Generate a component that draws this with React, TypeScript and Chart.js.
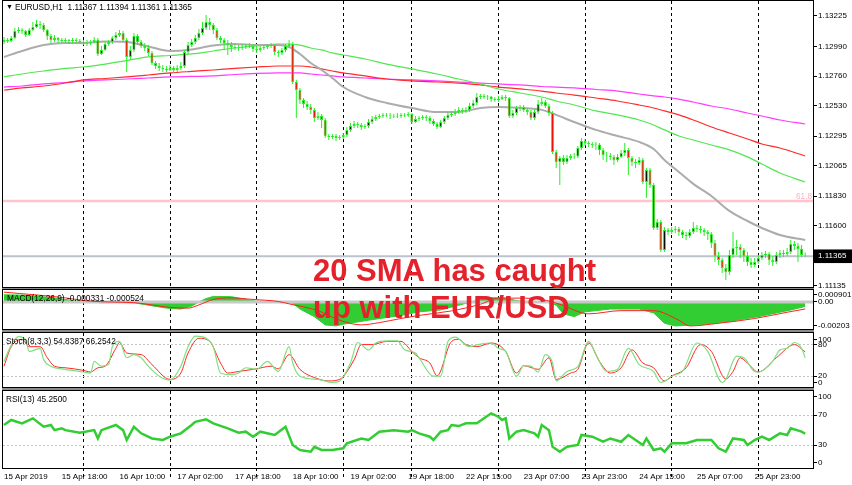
import React, { useEffect, useRef } from 'react';
import { Chart, registerables } from 'chart.js';

Chart.register(...registerables);

const FONT = 'Liberation Sans';
const X_MIN = -0.277;
const X_MAX = 224.16;

// ---------- price data (H1 candles, bar 0 = 15 Apr 02:00) ----------
const openP = [1.13024,1.13039,1.13031,1.13055,1.13109,1.13117,1.13109,1.13078,1.13117,1.13140,1.13163,1.13155,1.13117,1.13070,1.13039,1.13055,1.13039,1.13031,1.13039,1.13031,1.13039,1.13031,1.13024,1.13020,1.13016,1.13024,1.13039,1.12931,1.12962,1.13008,1.13024,1.13055,1.13078,1.13093,1.13039,1.12908,1.12962,1.13070,1.13024,1.12993,1.12977,1.12939,1.12861,1.12838,1.12822,1.12815,1.12807,1.12822,1.12807,1.12822,1.12838,1.12946,1.13000,1.13024,1.13055,1.13093,1.13132,1.13179,1.13155,1.13117,1.13055,1.13039,1.13016,1.13000,1.12985,1.12977,1.12980,1.12985,1.12993,1.12990,1.12970,1.12962,1.12977,1.12985,1.12993,1.13000,1.12946,1.12939,1.12962,1.12993,1.13008,1.12714,1.12652,1.12575,1.12544,1.12521,1.12498,1.12435,1.12451,1.12420,1.12296,1.12288,1.12296,1.12281,1.12288,1.12304,1.12343,1.12374,1.12389,1.12381,1.12366,1.12374,1.12404,1.12428,1.12443,1.12451,1.12459,1.12455,1.12451,1.12447,1.12451,1.12459,1.12455,1.12467,1.12404,1.12428,1.12435,1.12443,1.12435,1.12412,1.12389,1.12366,1.12404,1.12435,1.12459,1.12467,1.12482,1.12498,1.12490,1.12498,1.12528,1.12552,1.12598,1.12606,1.12598,1.12602,1.12582,1.12575,1.12582,1.12598,1.12590,1.12451,1.12474,1.12513,1.12521,1.12498,1.12482,1.12435,1.12482,1.12544,1.12559,1.12528,1.12474,1.12172,1.12095,1.12126,1.12095,1.12126,1.12141,1.12137,1.12203,1.12257,1.12242,1.12234,1.12226,1.12230,1.12188,1.12149,1.12145,1.12134,1.12110,1.12134,1.12164,1.12188,1.12126,1.12095,1.12087,1.12110,1.11940,1.12033,1.11917,1.11584,1.11630,1.11414,1.11568,1.11553,1.11568,1.11576,1.11553,1.11530,1.11522,1.11553,1.11584,1.11576,1.11568,1.11553,1.11537,1.11468,1.11367,1.11336,1.11274,1.11243,1.11375,1.11429,1.11437,1.11414,1.11367,1.11321,1.11297,1.11321,1.11352,1.11375,1.11383,1.11336,1.11321,1.11375,1.11390,1.11383,1.11398,1.11460,1.11444,1.11421,1.11367];
const highP = [1.13062,1.13055,1.13070,1.13132,1.13140,1.13132,1.13117,1.13132,1.13179,1.13194,1.13186,1.13171,1.13124,1.13086,1.13078,1.13062,1.13055,1.13055,1.13047,1.13055,1.13055,1.13047,1.13039,1.13039,1.13039,1.13062,1.13055,1.12993,1.13024,1.13039,1.13070,1.13101,1.13117,1.13109,1.13055,1.12993,1.13093,1.13086,1.13039,1.13016,1.13000,1.12954,1.12877,1.12861,1.12846,1.12838,1.12846,1.12838,1.12846,1.12869,1.12962,1.13024,1.13047,1.13078,1.13124,1.13179,1.13233,1.13210,1.13171,1.13132,1.13070,1.13055,1.13039,1.13024,1.13008,1.13000,1.13008,1.13008,1.13016,1.13008,1.12993,1.12993,1.13000,1.13008,1.13016,1.13008,1.12962,1.12977,1.13008,1.13039,1.13024,1.12731,1.12668,1.12590,1.12567,1.12544,1.12513,1.12482,1.12467,1.12435,1.12312,1.12312,1.12312,1.12304,1.12319,1.12366,1.12397,1.12412,1.12404,1.12397,1.12389,1.12428,1.12451,1.12459,1.12467,1.12474,1.12474,1.12474,1.12467,1.12474,1.12474,1.12474,1.12482,1.12474,1.12451,1.12451,1.12459,1.12459,1.12451,1.12428,1.12404,1.12420,1.12451,1.12482,1.12490,1.12505,1.12521,1.12513,1.12521,1.12552,1.12575,1.12629,1.12621,1.12621,1.12613,1.12606,1.12598,1.12606,1.12613,1.12613,1.12598,1.12498,1.12528,1.12536,1.12536,1.12513,1.12498,1.12498,1.12575,1.12590,1.12575,1.12544,1.12490,1.12188,1.12141,1.12149,1.12149,1.12157,1.12164,1.12219,1.12281,1.12273,1.12257,1.12250,1.12250,1.12242,1.12203,1.12172,1.12164,1.12149,1.12157,1.12188,1.12242,1.12203,1.12141,1.12118,1.12134,1.12126,1.12048,1.12048,1.11932,1.11654,1.11646,1.11592,1.11584,1.11592,1.11600,1.11592,1.11568,1.11553,1.11576,1.11630,1.11607,1.11600,1.11584,1.11568,1.11553,1.11491,1.11398,1.11352,1.11305,1.11414,1.11553,1.11491,1.11460,1.11429,1.11398,1.11352,1.11352,1.11375,1.11398,1.11406,1.11398,1.11367,1.11398,1.11414,1.11414,1.11429,1.11491,1.11483,1.11468,1.11452,1.11394];
const lowP = [1.13008,1.13016,1.13024,1.13047,1.13093,1.13086,1.13062,1.13070,1.13109,1.13132,1.13124,1.13101,1.13039,1.13016,1.13024,1.13016,1.13016,1.13016,1.13008,1.13016,1.13008,1.13008,1.13000,1.12993,1.13000,1.13016,1.12915,1.12923,1.12954,1.12993,1.13008,1.13039,1.13062,1.13024,1.12792,1.12884,1.12946,1.13000,1.12977,1.12954,1.12915,1.12846,1.12815,1.12799,1.12792,1.12792,1.12799,1.12784,1.12792,1.12807,1.12822,1.12931,1.12985,1.13008,1.13039,1.13078,1.13117,1.13117,1.13086,1.13039,1.13016,1.12962,1.12923,1.12946,1.12962,1.12954,1.12962,1.12970,1.12977,1.12946,1.12939,1.12946,1.12962,1.12970,1.12977,1.12923,1.12908,1.12923,1.12946,1.12977,1.12699,1.12435,1.12544,1.12513,1.12498,1.12467,1.12404,1.12420,1.12358,1.12281,1.12265,1.12273,1.12257,1.12265,1.12273,1.12288,1.12327,1.12358,1.12358,1.12343,1.12350,1.12358,1.12389,1.12412,1.12428,1.12435,1.12443,1.12428,1.12435,1.12435,1.12435,1.12443,1.12443,1.12389,1.12397,1.12412,1.12420,1.12412,1.12389,1.12374,1.12350,1.12358,1.12389,1.12420,1.12443,1.12451,1.12467,1.12467,1.12474,1.12482,1.12513,1.12536,1.12582,1.12582,1.12575,1.12559,1.12559,1.12559,1.12575,1.12567,1.12435,1.12435,1.12459,1.12490,1.12482,1.12459,1.12420,1.12420,1.12467,1.12528,1.12513,1.12451,1.12157,1.12048,1.11917,1.12072,1.12079,1.12110,1.12118,1.12126,1.12188,1.12219,1.12211,1.12203,1.12188,1.12149,1.12110,1.12095,1.12110,1.12072,1.12095,1.12126,1.12141,1.11994,1.12064,1.12048,1.12072,1.11925,1.11816,1.11894,1.11568,1.11568,1.11398,1.11398,1.11530,1.11537,1.11545,1.11522,1.11506,1.11491,1.11506,1.11537,1.11553,1.11545,1.11522,1.11491,1.11429,1.11321,1.11297,1.11235,1.11181,1.11220,1.11352,1.11375,1.11352,1.11321,1.11290,1.11274,1.11282,1.11305,1.11336,1.11352,1.11297,1.11290,1.11305,1.11352,1.11359,1.11367,1.11383,1.11414,1.11321,1.11359,1.11361];
const closeP = [1.13039,1.13031,1.13055,1.13109,1.13117,1.13109,1.13078,1.13117,1.13140,1.13163,1.13155,1.13117,1.13070,1.13039,1.13055,1.13039,1.13031,1.13039,1.13031,1.13039,1.13031,1.13024,1.13020,1.13016,1.13024,1.13039,1.12931,1.12962,1.13008,1.13024,1.13055,1.13078,1.13093,1.13039,1.12908,1.12962,1.13070,1.13024,1.12993,1.12977,1.12939,1.12861,1.12838,1.12822,1.12815,1.12807,1.12822,1.12807,1.12822,1.12838,1.12946,1.13000,1.13024,1.13055,1.13093,1.13132,1.13179,1.13155,1.13117,1.13055,1.13039,1.13016,1.13000,1.12985,1.12977,1.12980,1.12985,1.12993,1.12990,1.12970,1.12962,1.12977,1.12985,1.12993,1.13000,1.12946,1.12939,1.12962,1.12993,1.13008,1.12714,1.12652,1.12575,1.12544,1.12521,1.12498,1.12435,1.12451,1.12420,1.12296,1.12288,1.12296,1.12281,1.12288,1.12304,1.12343,1.12374,1.12389,1.12381,1.12366,1.12374,1.12404,1.12428,1.12443,1.12451,1.12459,1.12455,1.12451,1.12447,1.12451,1.12459,1.12455,1.12467,1.12404,1.12428,1.12435,1.12443,1.12435,1.12412,1.12389,1.12366,1.12404,1.12435,1.12459,1.12467,1.12482,1.12498,1.12490,1.12498,1.12528,1.12552,1.12598,1.12606,1.12598,1.12602,1.12582,1.12575,1.12582,1.12598,1.12590,1.12451,1.12474,1.12513,1.12521,1.12498,1.12482,1.12435,1.12482,1.12544,1.12559,1.12528,1.12474,1.12172,1.12095,1.12126,1.12095,1.12126,1.12141,1.12137,1.12203,1.12257,1.12242,1.12234,1.12226,1.12230,1.12188,1.12149,1.12145,1.12134,1.12110,1.12134,1.12164,1.12188,1.12126,1.12095,1.12087,1.12110,1.11940,1.12033,1.11917,1.11584,1.11630,1.11414,1.11568,1.11553,1.11568,1.11576,1.11553,1.11530,1.11522,1.11553,1.11584,1.11576,1.11568,1.11553,1.11537,1.11468,1.11367,1.11336,1.11274,1.11243,1.11375,1.11429,1.11437,1.11414,1.11367,1.11321,1.11297,1.11321,1.11352,1.11375,1.11383,1.11336,1.11321,1.11375,1.11390,1.11383,1.11398,1.11460,1.11444,1.11421,1.11375,1.11365];

// ---------- moving averages (read at these bar indices) ----------
const maIdx = [0,5,11,17,22,28,34,40,46,52,58,64,70,76,79,82,85,88,91,94,100,106,113,120,126,132,137,143,149,153,158,164,170,176,180,183,187,191,196,201,206,210,215,222];
const sma20 = [1.12908,1.12954,1.13000,1.13016,1.13016,1.13027,1.13024,1.12989,1.12954,1.12966,1.12997,1.13008,1.13000,1.13000,1.12985,1.12931,1.12861,1.12807,1.12745,1.12675,1.12598,1.12552,1.12513,1.12482,1.12482,1.12513,1.12521,1.12513,1.12498,1.12459,1.12404,1.12343,1.12296,1.12250,1.12195,1.12110,1.12017,1.11925,1.11832,1.11716,1.11638,1.11584,1.11530,1.11491];
const maGreen = [1.12753,1.12776,1.12799,1.12819,1.12830,1.12853,1.12880,1.12908,1.12919,1.12931,1.12954,1.12977,1.12993,1.13008,1.13008,1.13000,1.12977,1.12962,1.12939,1.12923,1.12892,1.12853,1.12815,1.12776,1.12737,1.12699,1.12660,1.12629,1.12598,1.12567,1.12536,1.12490,1.12459,1.12420,1.12381,1.12343,1.12296,1.12265,1.12226,1.12188,1.12134,1.12079,1.12010,1.11940];
const maRed = [1.12652,1.12668,1.12683,1.12706,1.12730,1.12741,1.12753,1.12768,1.12784,1.12796,1.12807,1.12819,1.12830,1.12838,1.12838,1.12838,1.12830,1.12815,1.12799,1.12784,1.12761,1.12737,1.12722,1.12714,1.12706,1.12691,1.12675,1.12660,1.12644,1.12629,1.12613,1.12590,1.12567,1.12536,1.12513,1.12490,1.12459,1.12420,1.12366,1.12319,1.12273,1.12234,1.12203,1.12141];
const maMagenta = [1.12675,1.12683,1.12699,1.12710,1.12722,1.12730,1.12737,1.12745,1.12753,1.12757,1.12761,1.12772,1.12780,1.12784,1.12784,1.12784,1.12776,1.12768,1.12761,1.12753,1.12745,1.12737,1.12730,1.12722,1.12714,1.12706,1.12699,1.12691,1.12679,1.12675,1.12668,1.12656,1.12644,1.12621,1.12606,1.12598,1.12582,1.12559,1.12528,1.12505,1.12474,1.12451,1.12420,1.12389];
const fibLevel = 1.11793;
const bidPrice = 1.11365;
const priceTicks = [1.11135,1.11365,1.11600,1.11830,1.12065,1.12295,1.12530,1.12760,1.12990,1.13225];

// ---------- MACD(12,26,9) ----------
const macdHistIdx = [0,6,13,20,24,27,32,36,40,45,49,52,54,56,58,63,67,70,74,78,80,82,86,89,92,94,101,110,115,121,126,131,135,139,142,146,150,153,155,158,161,168,176,180,183,186,193,201,209,218,222];
const macdHist = [0.00054,0.00051,0.00033,0.00008,0,-0.00006,-0.00003,-0.00006,-0.00024,-0.00046,-0.00053,-0.00031,0,0.00026,0.00042,0.0004,0.00019,0.00004,0,0.00004,-0.0001,-0.00053,-0.0011,-0.00172,-0.0018,-0.00167,-0.00137,-0.00101,-0.00074,-0.0006,-0.00024,0.00011,0.00033,0.00029,0.00011,-0.00003,0.00004,-0.00024,-0.00089,-0.0011,-0.00074,-0.00053,-0.00053,-0.00082,-0.0016,-0.0018,-0.00171,-0.00146,-0.0011,-0.0006,-0.000331];
const macdSigIdx = [0,17,22,29,36,46,51,54,58,63,69,76,79,87,93,99,104,110,115,124,132,137,143,149,154,162,171,180,187,190,198,208,217,222];
const macdSig = [0.00074,0.00031,0.00011,0,-0.00005,-0.00041,-0.00046,-0.00022,0.00019,0.00031,0.00019,0.00004,-0.00014,-0.00065,-0.00137,-0.00172,-0.00155,-0.00124,-0.00101,-0.00067,-0.00017,0.00029,0.00029,0.00019,-0.00017,-0.00089,-0.00065,-0.00065,-0.00137,-0.0018,-0.0016,-0.00124,-0.00077,-0.000524];
const macdTickVals = [-0.00178, 0, 0.000578];
const macdTickLabels = ['-0.00203', '0.00', '0.000901'];

// ---------- Stochastic(8,3,3) ----------
const stochMainIdx = [0,2,4,6,7,10,11,13,17,22,24,25,27,29,30,32,34,36,38,40,43,46,49,51,53,56,58,60,63,65,67,70,73,76,79,80,82,87,91,93,96,98,101,103,106,109,111,114,115,119,121,123,125,129,132,135,137,139,142,144,146,148,150,152,153,156,159,162,164,167,170,173,176,180,182,184,185,188,192,195,199,200,203,205,208,209,213,215,217,219,221,222];
const stochMain = [48,79,95,89,67,73,51,39,33,28,26,48,39,42,76,86,55,61,55,39,20,12.6,39,76,96,92,76,26,23,26,36,33,48,29,76,45,20,14,8,11,45,84,70,83,87,87,70,64,55,20,20,86,94,76,81,83,73,67,20,40,39,28,61,45,11,29,38,86,61,29,33,73,42,29,8,14,20,29,83,67,8,14,58,55,29,28,48,70,73,84,73,54.84];
const stochSigIdx = [0,2,5,7,10,12,14,17,22,24,26,28,31,32,34,38,41,46,49,51,54,57,60,62,65,70,74,76,79,82,87,90,93,97,99,102,106,110,113,115,118,120,124,126,128,131,135,139,142,144,148,151,153,157,159,162,165,168,171,174,177,180,183,185,189,193,196,200,202,204,206,209,214,219,222];
const stochSig = [39,76,90,76,76,55,39,36,31,28,36,39,73,84,64,61,42,14,26,64,92,86,45,26,29,34,39,34,61,33,15,11,14,51,80,80,86,86,67,55,45,21,86,90,80,76,83,67,26,40,33,55,14,26,33,83,48,26,36,70,45,36,11,20,36,80,67,15,29,55,45,28,55,80,66.25];
const stochTickVals = [7.7, 20, 80, 90];
const stochTickLabels = ['0', '20', '80', '100'];

// ---------- RSI(13) ----------
const rsiIdx = [0,2,5,8,11,13,14,16,17,21,25,26,27,31,33,34,36,38,41,44,46,49,52,53,56,58,62,65,67,69,71,75,78,80,82,85,86,88,91,94,95,99,101,104,108,112,113,115,118,119,121,123,124,126,128,131,133,135,137,138,139,140,142,144,147,148,149,151,152,154,156,159,160,163,166,168,171,173,175,177,178,180,182,183,185,189,192,196,198,200,202,205,206,208,210,212,215,217,218,221,222];
const rsiVals = [56.8,63.4,59,65.6,54.5,56.8,50,52.4,50,46.6,50,39,50,56.8,50,37,54.5,45.8,39,37,41.3,45.8,56.8,61,64.3,59,52.4,46.6,48,41.3,48,43.6,54.5,30.4,23.8,21.5,28,23.8,23.8,26,32.6,39,37,48,50,48,50,45.8,41.3,37,48,50,56.8,55.4,59,59,65.6,72.2,67.7,63.4,65.6,39,48,50,45.8,41.3,56.8,50,28,21.5,28,30.4,43.6,41.3,34.7,39,34.7,43.6,37,30.4,39,23.8,26,21.5,32.6,32.6,37,37,26,21.5,39,37,30.4,37,41.3,37,45.8,43.6,52.4,48,45.25];
const rsiTickVals = [7, 30, 70, 94.1];
const rsiTickLabels = ['0', '30', '70', '100'];

// ---------- time axis ----------
const separatorBars = [22,46,70,94,113,137,161,185,209];
const labelBars = [0,16,32,48,64,80,96,112,128,144,160,176,192,208];
const timeLabels = ['15 Apr 2019','15 Apr 18:00','16 Apr 10:00','17 Apr 02:00','17 Apr 18:00','18 Apr 10:00','19 Apr 02:00','19 Apr 18:00','22 Apr 15:00','23 Apr 07:00','23 Apr 23:00','24 Apr 15:00','25 Apr 07:00','25 Apr 23:00'];

const pts = (idx: number[], vals: number[]) => idx.map((x, k) => ({ x, y: vals[k] }));
const level = (v: number) => [{ x: X_MIN, y: v }, { x: X_MAX, y: v }];

const framePlugin = {
  id: 'frame',
  afterDraw(chart: any) {
    const { ctx, chartArea: a } = chart;
    ctx.save();
    ctx.strokeStyle = '#000';
    ctx.lineWidth = 1;
    ctx.strokeRect(Math.round(a.left) - 0.5, Math.round(a.top) - 0.5, Math.round(a.right - a.left) + 1, Math.round(a.bottom - a.top) + 1);
    ctx.restore();
  },
};

function makeX(showLabels: boolean, height: number) {
  const vals = showLabels ? [...separatorBars, ...labelBars].sort((a, b) => a - b) : separatorBars;
  return {
    type: 'linear',
    min: X_MIN,
    max: X_MAX,
    offset: false,
    afterBuildTicks: (s: any) => { s.ticks = vals.map((v) => ({ value: v })); },
    afterFit: (s: any) => { s.height = height; s.paddingLeft = 0; s.paddingRight = 0; },
    ticks: {
      display: showLabels,
      autoSkip: false,
      maxRotation: 0,
      minRotation: 0,
      align: 'start',
      padding: -8,
      color: '#000',
      font: { family: FONT, size: 8 },
      callback: (v: number) => { const k = labelBars.indexOf(v); return k >= 0 ? timeLabels[k] : ''; },
    },
    grid: {
      offset: false,
      drawOnChartArea: true,
      drawTicks: showLabels,
      tickLength: 12,
      lineWidth: 1,
      tickBorderDash: [3, 3],
      color: (c: any) => (c.tick && separatorBars.includes(c.tick.value) ? '#000' : 'rgba(0,0,0,0)'),
      tickColor: (c: any) => (c.tick && separatorBars.includes(c.tick.value) ? '#000' : 'rgba(0,0,0,0)'),
    },
    border: { display: false, dash: [3, 3] },
  };
}

function makeY(min: number, max: number, vals: number[], labels: string[], gridIdx: number[], tickExtra: any = {}) {
  return {
    type: 'linear',
    position: 'right',
    min,
    max,
    beginAtZero: false,
    afterBuildTicks: (s: any) => { s.ticks = vals.map((v) => ({ value: v })); },
    afterFit: (s: any) => { s.width = 39; s.paddingTop = 0; s.paddingBottom = 0; },
    ticks: {
      autoSkip: false,
      padding: 1,
      color: '#000',
      font: { family: FONT, size: 8 },
      callback: (_v: number, i: number) => labels[i],
      ...tickExtra,
    },
    grid: {
      drawOnChartArea: true,
      drawTicks: true,
      tickLength: 4,
      tickColor: '#000',
      lineWidth: 1,
      color: (c: any) => (gridIdx.includes(c.index) ? '#c4c4c4' : 'rgba(0,0,0,0)'),
    },
    border: { display: false, dash: [2, 2] },
  };
}

const baseOptions = (padBottom: number) => ({
  responsive: false,
  animation: false,
  events: [],
  layout: { padding: { left: 3, top: 1, bottom: padBottom, right: 0 } },
  plugins: { legend: { display: false }, tooltip: { enabled: false } },
});

function mainConfig(): any {
  const bars = closeP.map((_, i) => i);
  return {
    type: 'bar',
    data: {
      datasets: [
        { type: 'line', data: level(fibLevel), borderColor: '#ffc4cc', borderWidth: 2.5, pointRadius: 0, order: 9 },
        { type: 'line', data: level(bidPrice), borderColor: '#bcc3cc', borderWidth: 2, pointRadius: 0, order: 9 },
        { type: 'line', data: pts(maIdx, maMagenta), borderColor: '#ff3cff', borderWidth: 1.2, pointRadius: 0, cubicInterpolationMode: 'monotone', order: 8 },
        { type: 'line', data: pts(maIdx, maRed), borderColor: '#ff2a2a', borderWidth: 1.2, pointRadius: 0, cubicInterpolationMode: 'monotone', order: 7 },
        { type: 'line', data: pts(maIdx, maGreen), borderColor: '#52e652', borderWidth: 1.2, pointRadius: 0, cubicInterpolationMode: 'monotone', order: 6 },
        { type: 'line', data: pts(maIdx, sma20), borderColor: '#acacac', borderWidth: 2, pointRadius: 0, cubicInterpolationMode: 'monotone', order: 5 },
        { type: 'bar', data: bars.map((i) => ({ x: i, y: [lowP[i], highP[i]] })), backgroundColor: '#26ee26', barThickness: 1, grouped: false, borderWidth: 0, inflateAmount: 0, order: 2 },
        {
          type: 'bar',
          data: bars.map((i) => ({ x: i, y: [openP[i], closeP[i]] })),
          backgroundColor: (c: any) => (closeP[c.dataIndex] >= openP[c.dataIndex] ? '#000' : '#ff0000'),
          borderColor: '#26ee26',
          borderWidth: 1,
          borderSkipped: false,
          barThickness: 3,
          grouped: false,
          inflateAmount: 0,
          order: 1,
        },
      ],
    },
    options: {
      ...baseOptions(1),
      scales: {
        x: makeX(false, 0),
        y: makeY(1.11127, 1.13341, priceTicks, priceTicks.map((v) => v.toFixed(5)), [], {
          showLabelBackdrop: true,
          backdropColor: (c: any) => (c.index === 1 ? '#000' : 'rgba(0,0,0,0)'),
          backdropPadding: { left: 4, right: 6, top: 2, bottom: 2 },
          color: (c: any) => (c.index === 1 ? '#fff' : '#000'),
        }),
      },
    },
    plugins: [framePlugin],
  };
}

function macdConfig(): any {
  return {
    type: 'line',
    data: {
      datasets: [
        { data: pts(macdHistIdx, macdHist), borderColor: '#32cd32', backgroundColor: '#32cd32', borderWidth: 1, fill: 'origin', pointRadius: 0, order: 3 },
        { data: level(0), borderColor: '#c8c8c8', borderWidth: 3, pointRadius: 0, order: 2 },
        { data: pts(macdSigIdx, macdSig), borderColor: '#ff2020', borderWidth: 1, pointRadius: 0, cubicInterpolationMode: 'monotone', order: 1 },
      ],
    },
    options: {
      ...baseOptions(1),
      scales: { x: makeX(false, 0), y: makeY(-0.00203, 0.000901, macdTickVals, macdTickLabels, []) },
    },
    plugins: [framePlugin],
  };
}

function stochConfig(): any {
  return {
    type: 'line',
    data: {
      datasets: [
        { data: pts(stochSigIdx, stochSig), borderColor: '#ff2626', borderWidth: 1, pointRadius: 0, cubicInterpolationMode: 'monotone', order: 2 },
        { data: pts(stochMainIdx, stochMain), borderColor: '#7ee07e', borderWidth: 1.2, pointRadius: 0, cubicInterpolationMode: 'monotone', order: 1 },
      ],
    },
    options: {
      ...baseOptions(1),
      scales: { x: makeX(false, 0), y: makeY(-0.5, 102, stochTickVals, stochTickLabels, [1, 2]) },
    },
    plugins: [framePlugin],
  };
}

function rsiConfig(): any {
  return {
    type: 'line',
    data: {
      datasets: [
        { data: pts(rsiIdx, rsiVals), borderColor: '#32cd32', borderWidth: 2.5, pointRadius: 0, order: 1 },
      ],
    },
    options: {
      ...baseOptions(0),
      scales: { x: makeX(true, 17), y: makeY(0, 101.7, rsiTickVals, rsiTickLabels, [1, 2]) },
    },
    plugins: [framePlugin],
  };
}

const labelStyle: React.CSSProperties = {
  position: 'absolute',
  fontFamily: FONT,
  fontSize: '8.3px',
  lineHeight: '10px',
  color: '#000',
  whiteSpace: 'pre',
};

const gapStyle = (top: number, h: number): React.CSSProperties => ({
  position: 'absolute', left: 2, top, width: 812, height: h, background: '#8c8c8c',
});

export default function App() {
  const mainRef = useRef<HTMLCanvasElement>(null);
  const macdRef = useRef<HTMLCanvasElement>(null);
  const stochRef = useRef<HTMLCanvasElement>(null);
  const rsiRef = useRef<HTMLCanvasElement>(null);

  useEffect(() => {
    document.body.style.margin = '0';
    const charts: any[] = [];
    if (mainRef.current) charts.push(new Chart(mainRef.current, mainConfig()));
    if (macdRef.current) charts.push(new Chart(macdRef.current, macdConfig()));
    if (stochRef.current) charts.push(new Chart(stochRef.current, stochConfig()));
    if (rsiRef.current) charts.push(new Chart(rsiRef.current, rsiConfig()));
    return () => charts.forEach((c) => c.destroy());
  }, []);

  return (
    <div style={{ position: 'relative', width: 852, height: 485, background: '#fff', overflow: 'hidden' }}>
      <canvas ref={mainRef} width={852} height={288} style={{ position: 'absolute', left: 0, top: 0 }} />
      <div style={gapStyle(288, 1)} />
      <canvas ref={macdRef} width={852} height={41} style={{ position: 'absolute', left: 0, top: 289 }} />
      <div style={gapStyle(330, 2)} />
      <canvas ref={stochRef} width={852} height={56} style={{ position: 'absolute', left: 0, top: 332 }} />
      <div style={gapStyle(388, 2)} />
      <canvas ref={rsiRef} width={852} height={95} style={{ position: 'absolute', left: 0, top: 390 }} />

      <div style={{ ...labelStyle, left: 6, top: 2, fontSize: '7px' }}>▼</div>
      <div style={{ ...labelStyle, left: 15, top: 2 }}>{'EURUSD,H1  1.11367 1.11394 1.11361 1.11365'}</div>
      <div style={{ ...labelStyle, left: 796, top: 191, color: '#ffb0bc' }}>61.8</div>
      <div style={{ ...labelStyle, left: 7, top: 293 }}>{'MACD(12,26,9) -0.000331 -0.000524'}</div>
      <div style={{ ...labelStyle, left: 6, top: 336 }}>{'Stoch(8,3,3) 54.8387 66.2542'}</div>
      <div style={{ ...labelStyle, left: 6, top: 394 }}>{'RSI(13) 45.2500'}</div>

      <div
        style={{
          position: 'absolute',
          left: 313,
          top: 252,
          fontFamily: FONT,
          fontWeight: 'bold',
          fontSize: '31px',
          lineHeight: '37px',
          color: '#e5212b',
          whiteSpace: 'pre',
        }}
      >
        {'20 SMA has caught\nup with EUR/USD'}
      </div>
    </div>
  );
}
